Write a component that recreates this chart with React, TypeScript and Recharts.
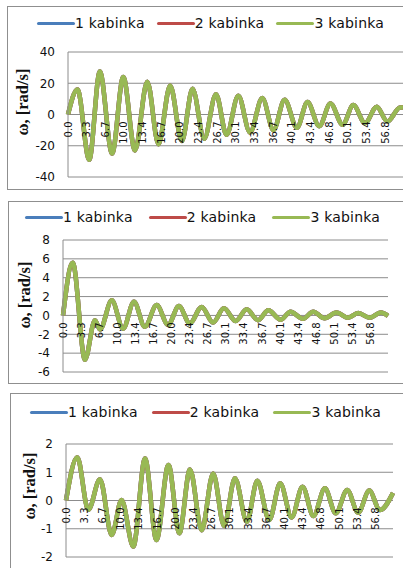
import { LineChart, Line, XAxis, YAxis, CartesianGrid } from "recharts";

const SERIES = [
  { key: "k1", name: "1 kabinka", color: "#4a7ebb" },
  { key: "k2", name: "2 kabinka", color: "#be4b48" },
  { key: "k3", name: "3 kabinka", color: "#98b954" },
];

// time labels on the category axis, s
const timeTicks = [
  0, 3.34, 6.68, 10.02, 13.36, 16.7, 20.04, 23.38, 26.72, 30.06, 33.4,
  36.74, 40.08, 43.42, 46.76, 50.1, 53.44, 56.78,
];

// panel 1 – angular velocity, rad/s
const time1 = [
  0, 1.7, 3.8, 5.7, 7.9, 9.9, 12.0, 14.2, 16.2, 18.3, 20.4, 22.3, 24.4, 26.5,
  28.4, 30.5, 32.6, 34.8, 36.8, 38.8, 41.0, 42.9, 45.0, 47.0, 49.2, 51.1, 53.2,
  55.3, 57.2, 59.5, 60,
];
const omega1 = [
  0, 16, -29, 27.5, -25, 24, -23, 21, -19, 18.5, -17, 16.5, -15.5, 13, -13, 12,
  -11.5, 10.5, -10, 9.5, -8.5, 8, -7.5, 7, -6.5, 6, -5.5, 5, -4.5, 4.5, 4.4,
];
const yTicks1 = [-40, -20, 0, 20, 40];

// panel 2
const time2 = [
  0, 1.8, 4.06, 5.9, 6.83, 9.0, 11.1, 13.1, 15.1, 17.3, 19.4, 21.4, 23.4, 25.6,
  27.7, 29.7, 31.9, 33.9, 36.0, 37.9, 40.2, 42.0, 44.3, 46.2, 48.3, 50.5, 52.6,
  54.5, 56.6, 58.7, 60,
];
const omega2 = [
  0, 5.6, -4.7, -0.5, -1.5, 1.6, -1.4, 1.45, -1.2, 1.1, -1.0, 1.0, -0.85, 0.9,
  -0.75, 0.75, -0.6, 0.65, -0.5, 0.55, -0.45, 0.4, -0.35, 0.4, -0.3, 0.3, -0.25,
  0.25, -0.25, 0.3, -0.05,
];
const yTicks2 = [-6, -4, -2, 0, 2, 4, 6, 8];

// panel 3
const time3 = [
  0, 2.07, 4.09, 6.24, 8.39, 10.2, 12.35, 14.5, 16.6, 18.8, 20.8, 22.75, 24.9,
  27.0, 29.0, 31.0, 33.2, 35.1, 37.3, 39.3, 41.4, 43.4, 45.4, 47.5, 49.5, 51.6,
  53.6, 55.65, 57.6, 60,
];
const omega3 = [
  0, 1.53, -0.33, 0.75, -1.22, 0.02, -1.63, 1.49, -1.4, 1.26, -1.16, 1.1, -1.05,
  0.96, -0.9, 0.79, -0.75, 0.7, -0.69, 0.61, -0.6, 0.49, -0.55, 0.43, -0.45,
  0.37, -0.43, 0.35, -0.34, 0.27,
];
const yTicks3 = [-2, -1, 0, 1, 2];

// all three cabins share the same trace
const toRows = (t: number[], w: number[]) =>
  t.map((v, i) => ({ t: v, k1: w[i], k2: w[i], k3: w[i] }));

const GRID = "#8c8c8c";
const SANS = "'DejaVu Sans', Verdana, sans-serif";
const X_AXIS_H = 8;

type PanelProps = {
  data: { t: number; k1: number; k2: number; k3: number }[];
  yTicks: number[];
  box: { left: number; top: number; height: number };
  margin: { top: number; right: number; bottom: number };
  yWidth: number;
  legend: { left: number; top: number; gap: number };
  title: { x: number; y: number };
};

const W = 410;

const Panel = ({ data, yTicks, box, margin, yWidth, legend, title }: PanelProps) => {
  const yMin = yTicks[0];
  const yMax = yTicks[yTicks.length - 1];
  const plotH = box.height - margin.top - margin.bottom;
  const zeroY = margin.top + (plotH * yMax) / (yMax - yMin);

  // labels hang below the zero line, like an axis crossing at 0
  const renderTimeTick = (props: any) => {
    const { x, payload } = props;
    return (
      <text
        key={`t-${payload.value}`}
        transform={`translate(${x + 3.5},${zeroY + 7}) rotate(-90)`}
        textAnchor="end"
        fontSize={10}
        fontFamily={SANS}
        fill="#111"
      >
        {Number(payload.value).toFixed(1)}
      </text>
    );
  };

  return (
    <div
      style={{
        position: "absolute",
        left: box.left,
        top: box.top,
        width: W,
        height: box.height,
        border: "1px solid #8f8f8f",
        background: "#fff",
      }}
    >
      <div
        style={{
          position: "absolute",
          left: legend.left,
          top: legend.top,
          display: "flex",
          alignItems: "center",
          gap: legend.gap,
          fontFamily: SANS,
          fontSize: 14,
          letterSpacing: 0.2,
          color: "#111",
          whiteSpace: "nowrap",
        }}
      >
        {SERIES.map((s) => (
          <div key={s.key} style={{ display: "flex", alignItems: "center" }}>
            <span
              style={{
                display: "inline-block",
                width: 38,
                height: 3.5,
                borderRadius: 2,
                background: s.color,
              }}
            />
            <span style={{ lineHeight: "17px" }}>{s.name}</span>
          </div>
        ))}
      </div>

      <div
        style={{
          position: "absolute",
          left: title.x,
          top: title.y,
          transform: "translate(-50%, -50%) rotate(-90deg)",
          fontFamily: "'Liberation Serif', 'Times New Roman', serif",
          fontWeight: "bold",
          fontSize: 16.5,
          whiteSpace: "nowrap",
          color: "#111",
        }}
      >
        ω, [rad/s]
      </div>

      <LineChart
        width={W}
        height={box.height}
        data={data}
        margin={{
          top: margin.top,
          right: margin.right,
          bottom: margin.bottom - X_AXIS_H,
          left: 0,
        }}
      >
        <CartesianGrid vertical={false} stroke={GRID} />
        <XAxis
          dataKey="t"
          type="number"
          domain={[0, 60]}
          ticks={timeTicks}
          interval={0}
          height={X_AXIS_H}
          axisLine={false}
          tickLine={false}
          tick={renderTimeTick}
        />
        <YAxis
          type="number"
          domain={[yMin, yMax]}
          ticks={yTicks}
          interval={0}
          width={yWidth}
          axisLine={{ stroke: GRID }}
          tickLine={false}
          tickSize={0}
          tickMargin={13}
          tick={{ fontSize: 12, fill: "#111", fontFamily: SANS }}
        />
        {SERIES.map((s) => (
          <Line
            key={s.key}
            dataKey={s.key}
            name={s.name}
            type="monotone"
            stroke={s.color}
            strokeWidth={4.5}
            dot={false}
            isAnimationActive={false}
          />
        ))}
      </LineChart>
    </div>
  );
};

export default function App() {
  return (
    <div
      style={{
        position: "absolute",
        left: 0,
        top: 0,
        width: 403,
        height: 568,
        overflow: "hidden",
        background: "#fff",
      }}
    >
      <Panel
        data={toRows(time1, omega1)}
        yTicks={yTicks1}
        box={{ left: 7, top: 6, height: 182 }}
        margin={{ top: 45, right: 15, bottom: 12 }}
        yWidth={60}
        legend={{ left: 29, top: 8, gap: 12 }}
        title={{ x: 15, y: 95 }}
      />
      <Panel
        data={toRows(time2, omega2)}
        yTicks={yTicks2}
        box={{ left: 8, top: 201, height: 181 }}
        margin={{ top: 38, right: 31, bottom: 11 }}
        yWidth={54}
        legend={{ left: 16, top: 7, gap: 16 }}
        title={{ x: 16, y: 93 }}
      />
      <Panel
        data={toRows(time3, omega3)}
        yTicks={yTicks3}
        box={{ left: 10, top: 393, height: 180 }}
        margin={{ top: 50, right: 28, bottom: 17 }}
        yWidth={55}
        legend={{ left: 19, top: 10, gap: 14 }}
        title={{ x: 19, y: 92 }}
      />
    </div>
  );
}
